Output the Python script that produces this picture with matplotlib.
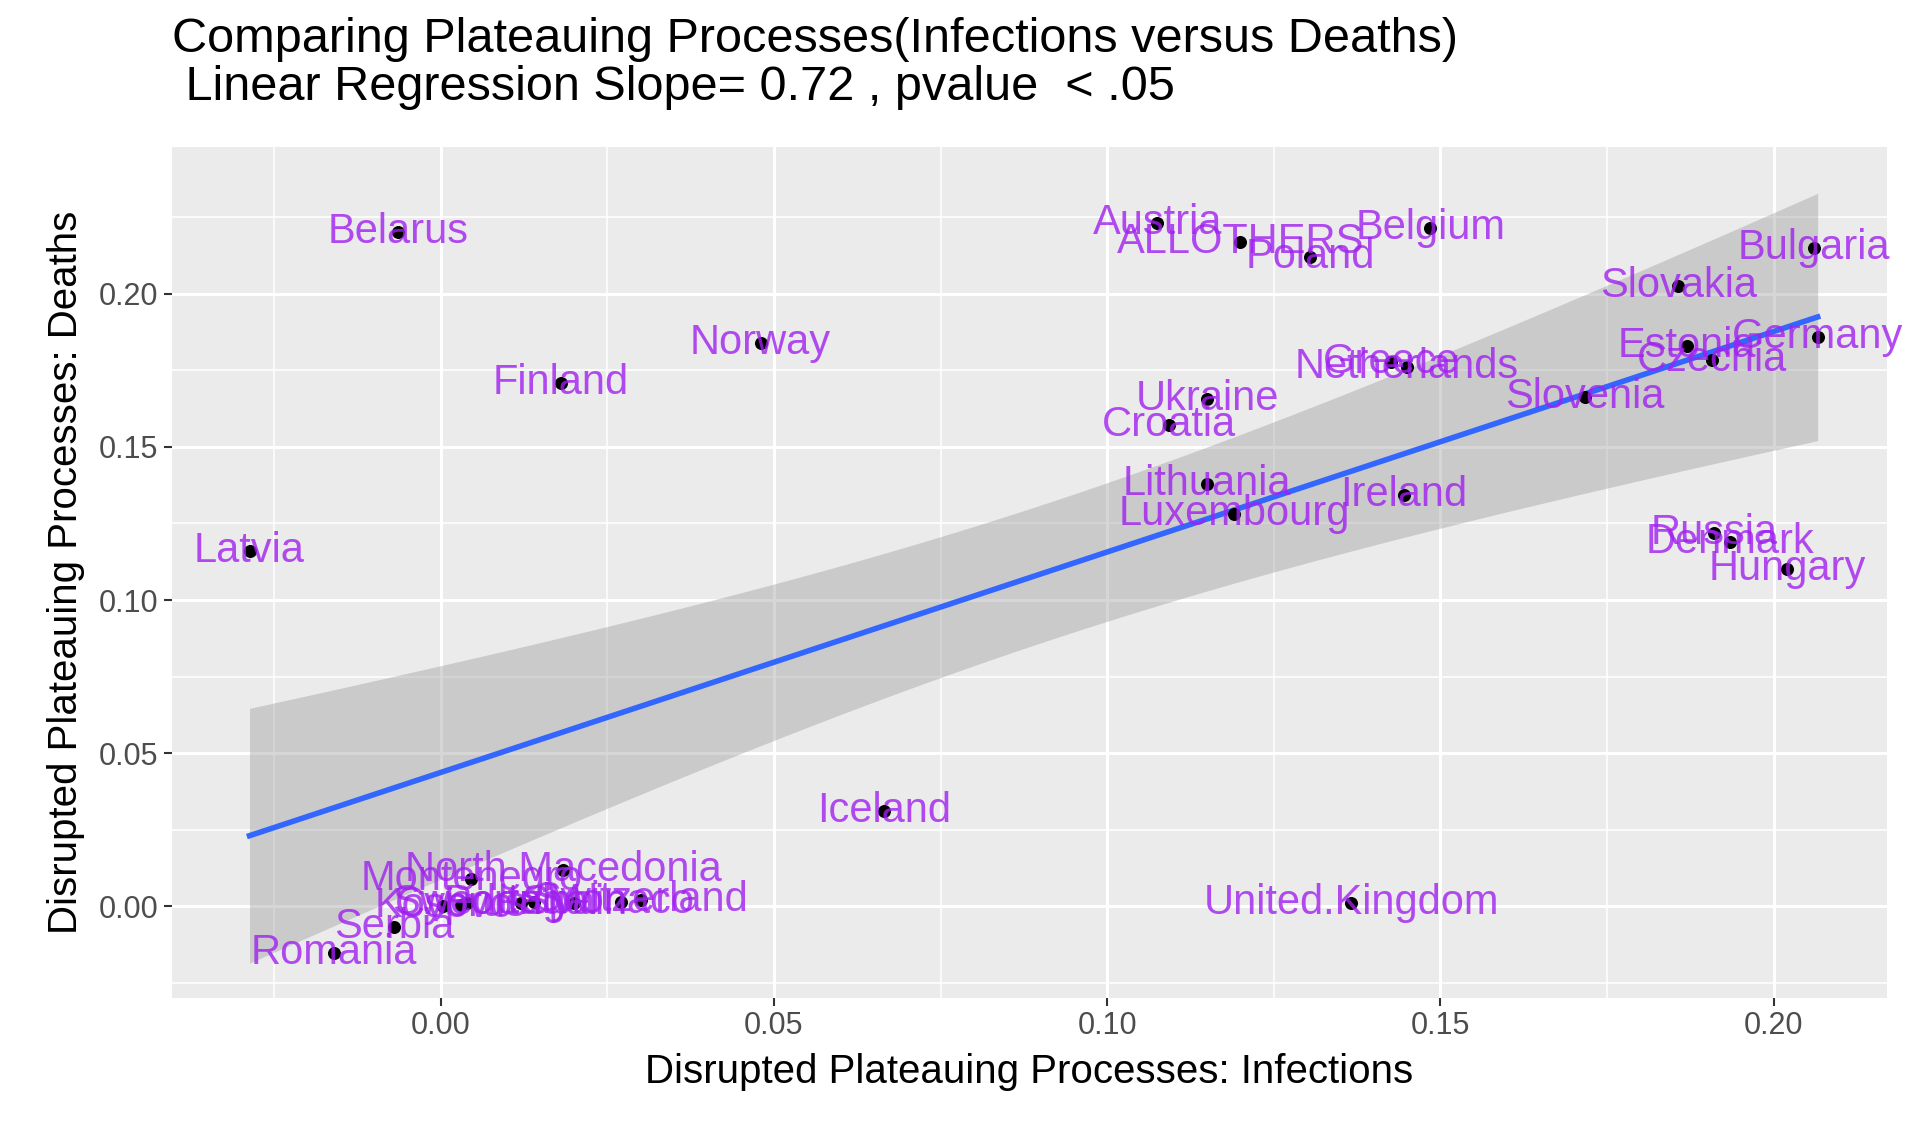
import numpy as np
import matplotlib
matplotlib.use('Agg')
import matplotlib.pyplot as plt

plt.rcParams['font.family'] = ['Liberation Sans', 'DejaVu Sans']

countries = ['Belarus', 'Finland', 'Norway', 'Latvia', 'Austria', 'ALLOTHERS', 'Poland',
             'Belgium', 'Bulgaria', 'Slovakia', 'Estonia', 'Czechia', 'Germany', 'Slovenia',
             'Greece', 'Netherlands', 'Ukraine', 'Croatia', 'Lithuania', 'Luxembourg',
             'Ireland', 'Russia', 'Denmark', 'Hungary', 'Iceland', 'United.Kingdom',
             'North Macedonia', 'Montenegro', 'Kosovo', 'Sweden', 'Cyprus', 'Serbia',
             'Romania', 'Portugal', 'Italy', 'Spain', 'Monaco', 'Switzerland']
infections = [-0.0064, 0.018, 0.048, -0.0287, 0.1075, 0.120, 0.1305,
              0.1485, 0.206, 0.1857, 0.187, 0.1908, 0.2066, 0.1717,
              0.1426, 0.145, 0.115, 0.1092, 0.115, 0.119,
              0.1445, 0.191, 0.1934, 0.202, 0.0665, 0.1366,
              0.0184, 0.0046, 0.0004, 0.004, 0.003, -0.007,
              -0.016, 0.012, 0.014, 0.020, 0.027, 0.030]
deaths = [0.220, 0.171, 0.184, 0.116, 0.223, 0.217, 0.212,
          0.2215, 0.215, 0.2024, 0.183, 0.1784, 0.186, 0.1664,
          0.1776, 0.176, 0.1656, 0.157, 0.138, 0.128,
          0.1344, 0.122, 0.119, 0.110, 0.031, 0.001,
          0.012, 0.0088, 0.000, 0.001, 0.0005, -0.0068,
          -0.0152, 0.001, 0.0015, 0.001, 0.0015, 0.002]

x = np.array(infections)
y = np.array(deaths)

# linear fit with 95% confidence band
slope, intercept = np.polyfit(x, y, 1)
n = len(x)
resid = y - (slope * x + intercept)
s = np.sqrt(np.sum(resid ** 2) / (n - 2))
xs = np.linspace(x.min(), x.max(), 200)
ys = slope * xs + intercept
se = s * np.sqrt(1 / n + (xs - x.mean()) ** 2 / np.sum((x - x.mean()) ** 2))
t = 2.03

fig = plt.figure(figsize=(19.06, 11.28), dpi=100)
ax = fig.add_axes([0.090, 0.115, 0.900, 0.755])
ax.set_facecolor('#EBEBEB')
ax.grid(True, which='major', color='white', linewidth=2.2)
ax.grid(True, which='minor', color='white', linewidth=1.1)
ax.set_axisbelow(True)
for sp in ax.spines.values():
    sp.set_visible(False)

ax.fill_between(xs, ys - t * se, ys + t * se, color='#999999', alpha=0.4, linewidth=0, zorder=2)
ax.plot(xs, ys, color='#3366FF', linewidth=4, zorder=3)
ax.scatter(x, y, s=70, color='black', zorder=4)
for name, xi, yi in zip(countries, infections, deaths):
    ax.text(xi, yi, name, color='#A020F0', alpha=0.8, fontsize=30,
            ha='center', va='center', zorder=5)

ax.set_xlim(-0.0404, 0.217)
ax.set_ylim(-0.030, 0.248)
ax.set_xticks([0.00, 0.05, 0.10, 0.15, 0.20])
ax.set_xticks([-0.025, 0.025, 0.075, 0.125, 0.175], minor=True)
ax.set_yticks([0.00, 0.05, 0.10, 0.15, 0.20])
ax.set_yticks([-0.025, 0.025, 0.075, 0.125, 0.175, 0.225], minor=True)
ax.set_xticklabels(['0.00', '0.05', '0.10', '0.15', '0.20'])
ax.set_yticklabels(['0.00', '0.05', '0.10', '0.15', '0.20'])
ax.tick_params(axis='both', which='major', labelsize=22, labelcolor='#4D4D4D',
               color='#333333', length=6, width=1.5)
ax.tick_params(axis='both', which='minor', length=0)
ax.set_xlabel('Disrupted Plateauing Processes: Infections', fontsize=29, labelpad=8)
ax.set_ylabel('Disrupted Plateauing Processes: Deaths', fontsize=29, labelpad=10)

fig.text(0.090, 0.985, 'Comparing Plateauing Processes(Infections versus Deaths)\n'
         ' Linear Regression Slope= 0.72 , pvalue  < .05',
         fontsize=35, ha='left', va='top', linespacing=1.1)

fig.savefig('out.png', dpi=100)
